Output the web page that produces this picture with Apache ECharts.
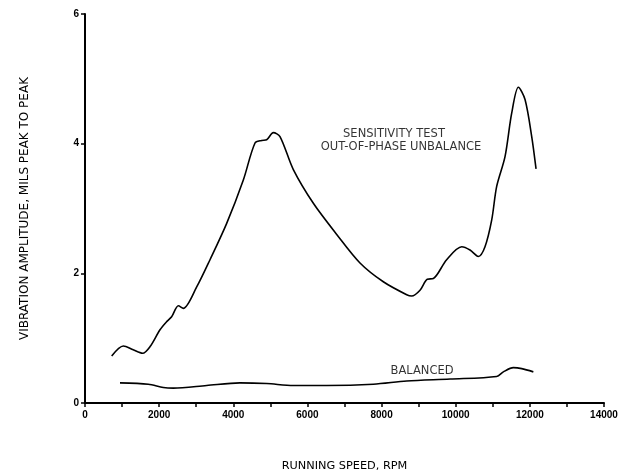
<!DOCTYPE html>
<html>
<head>
<meta charset="utf-8">
<script src="https://cdn.jsdelivr.net/npm/echarts@6/dist/echarts.min.js"></script>
<style>
  html, body { margin: 0; padding: 0; background: #fff; }
  #chart { width: 641px; height: 475px; }
</style>
</head>
<body>
<div id="chart"></div>
<script>
// running speed (rpm) and amplitude (mils p-p)
const rpmTest = [720, 1035, 1300, 1555, 1755, 2023, 2203, 2337, 2518, 2652, 3013, 3372, 3822, 4271, 4586, 4766, 4900, 5080, 5260, 5620, 6160, 6790, 7418, 8047, 8678, 8812, 9037, 9234, 9396, 9755, 10162, 10386, 10610, 10790, 10970, 11105, 11330, 11510, 11690, 11870, 12050, 12167]
const ampTest = [0.725, 0.88, 0.82, 0.767, 0.87, 1.13, 1.255, 1.33, 1.50, 1.46, 1.79, 2.21, 2.77, 3.44, 4.01, 4.05, 4.06, 4.17, 4.11, 3.60, 3.08, 2.60, 2.16, 1.87, 1.67, 1.65, 1.74, 1.91, 1.92, 2.21, 2.41, 2.36, 2.26, 2.41, 2.82, 3.34, 3.80, 4.47, 4.87, 4.68, 4.11, 3.61]

const rpmBal = [944, 1708, 2113, 2382, 3282, 4181, 4900, 5620, 6520, 7778, 8678, 9846, 11105, 11285, 11555, 11780, 12094]
const ampBal = [0.31, 0.29, 0.24, 0.23, 0.27, 0.31, 0.30, 0.27, 0.27, 0.29, 0.34, 0.37, 0.41, 0.48, 0.545, 0.53, 0.48]

const xTicks = [0, 2000, 4000, 6000, 8000, 10000, 12000, 14000]
const yTicks = [0, 2, 4, 6]

// curve labels, in data units
const noteText = ['SENSITIVITY TEST', 'OUT-OF-PHASE UNBALANCE', 'BALANCED']
const noteRpm = [8335, 8524, 9091]
const noteAmp = [4.15, 3.95, 0.5]

const font = 'DejaVu Sans'
const tickFont = 'Liberation Sans'
const pairs = (xs, ys) => xs.map((x, i) => [x, ys[i]])

const chart = echarts.init(document.getElementById('chart'), null, { renderer: 'canvas' })

const option = {
  backgroundColor: '#fff',
  animation: false,
  grid: { left: 85, right: 37, top: 14, bottom: 72, containLabel: false, outerBoundsMode: 'none' },
  xAxis: {
    type: 'value',
    min: xTicks[0],
    max: xTicks[xTicks.length - 1],
    interval: 2000,
    name: 'RUNNING SPEED, RPM',
    nameLocation: 'middle',
    nameGap: 58,
    nameTextStyle: { color: '#000', fontFamily: font, fontSize: 11.3 },
    axisLine: { show: true, onZero: false, lineStyle: { color: '#000', width: 2 } },
    axisTick: { show: true, length: 4, lineStyle: { color: '#000', width: 1.5 } },
    minorTick: { show: true, splitNumber: 2, length: 4, lineStyle: { color: '#000', width: 1.5 } },
    axisLabel: { color: '#000', fontFamily: tickFont, fontSize: 10, fontWeight: 'bold', margin: 7, formatter: v => String(v) },
    splitLine: { show: false }
  },
  yAxis: {
    type: 'value',
    min: yTicks[0],
    max: yTicks[yTicks.length - 1],
    interval: 2,
    name: 'VIBRATION AMPLITUDE, MILS PEAK TO PEAK',
    nameLocation: 'middle',
    nameGap: 54,
    nameTextStyle: { color: '#000', fontFamily: font, fontSize: 12 },
    axisLine: { show: true, onZero: false, lineStyle: { color: '#000', width: 2 } },
    axisTick: { show: true, length: 4, lineStyle: { color: '#000', width: 1.5 } },
    axisLabel: { color: '#000', fontFamily: tickFont, fontSize: 10, fontWeight: 'bold', margin: 6 },
    splitLine: { show: false }
  },
  series: [
    {
      name: 'test',
      type: 'line',
      data: pairs(rpmTest, ampTest),
      smooth: 0.3,
      showSymbol: false,
      lineStyle: { color: '#000', width: 1.6 }
    },
    {
      name: 'balanced',
      type: 'line',
      data: pairs(rpmBal, ampBal),
      smooth: 0.3,
      showSymbol: false,
      lineStyle: { color: '#000', width: 1.6 }
    },
    {
      name: 'notes',
      type: 'scatter',
      symbolSize: 0,
      silent: true,
      data: noteText.map((t, i) => ({ value: [noteRpm[i], noteAmp[i]], name: t })),
      label: {
        show: true,
        position: 'inside',
        formatter: p => p.name,
        color: '#000',
        fontFamily: font,
        fontSize: 11.5
      }
    }
  ]
}
chart.setOption(option)
</script>
</body>
</html>
